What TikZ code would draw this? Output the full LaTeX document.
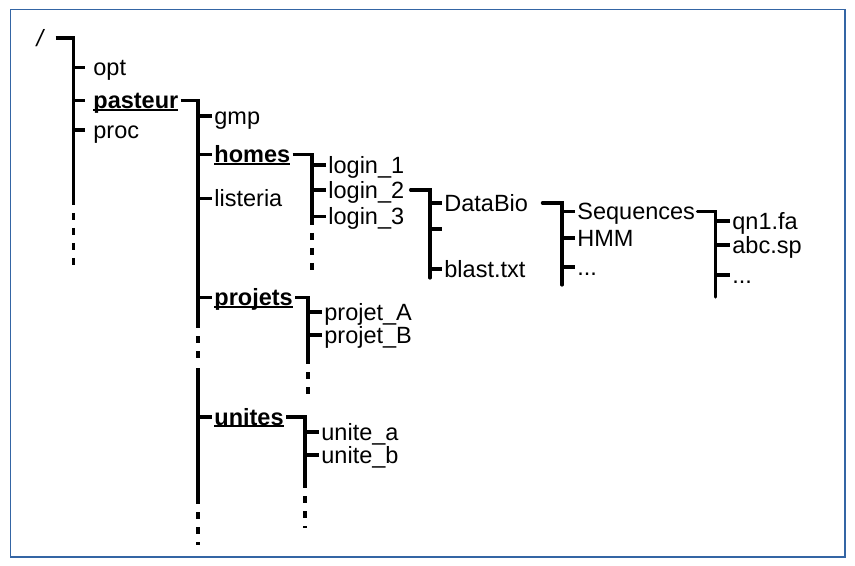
\documentclass[tikz,border=0pt]{standalone}
\usepackage{fontspec}
\setmainfont{Liberation Sans}
\usepackage{tikz}

\definecolor{cadre}{RGB}{52,101,164}
\newcommand{\taille}{\fontsize{11.75pt}{14pt}\selectfont}
\newcommand{\souligne}[1]{\setbox0\hbox{#1}\rlap{\vrule height 0pt depth 1.15pt width \wd0}\box0}

\tikzset{
  fichier/.style={anchor=west, inner sep=1pt, text height=10.6pt, text depth=2.5pt},
  dossier/.style={fichier, font=\taille\bfseries},
  barre/.style={line width=1.6pt},
  pointille/.style={barre, dash pattern=on 3.5pt off 4pt, dash phase=3.5pt},
}

\begin{document}
\begin{tikzpicture}[x=0.5pt,y=-0.5pt,font=\taille]
\useasboundingbox (0,0) rectangle (855,566);
\draw[cadre,line width=0.6pt] (10.5,9.5) rectangle (845,557);

% racine
\node[inner sep=1pt] (racine) at (40,38) {\itshape /};
\coordinate (r1) at (73.5,205); \coordinate (r2) at (73.5,265);
\node[fichier] (opt) at (91,67.7) {opt};
\node[dossier] (pasteur) at (91,100.5) {\souligne{pasteur}};
\node[fichier] (proc) at (91,130) {proc};
\draw[barre] ([xshift=5pt]racine.east) -- (racine.east -| r1) -- (r1);
\draw[pointille] (r1) -- (r2);
\foreach \n in {opt,pasteur,proc}
  \draw[barre] (\n.west -| r1) -- ([xshift=-3pt]\n.west);

% pasteur
\coordinate (p1) at (198,328); \coordinate (p2) at (198,358);
\coordinate (p3) at (198,368); \coordinate (p4) at (198,504); \coordinate (p5) at (198,545);
\node[fichier] (gmp) at (212,116) {gmp};
\node[dossier] (homes) at (212,154.5) {\souligne{homes}};
\node[fichier] (listeria) at (212,198.3) {listeria};
\node[dossier] (projets) at (212,297.5) {\souligne{projets}};
\node[dossier] (unites) at (212,417) {\souligne{unites}};
\draw[barre] (pasteur.east) -- (pasteur.east -| p1) -- (p1);
\draw[pointille] (p1) -- (p2);
\draw[barre] (p3) -- (p4);
\draw[pointille] (p4) -- (p5);
\foreach \n in {gmp,homes,listeria,projets,unites}
  \draw[barre] (\n.west -| p1) -- (\n.west);

% homes
\coordinate (h1) at (312,225); \coordinate (h2) at (312,272);
\node[fichier] (login1) at (326,165) {login\_1};
\node[fichier] (login2) at (326,190) {login\_2};
\node[fichier] (login3) at (326,216.7) {login\_3};
\draw[barre] (homes.east) -- (homes.east -| h1) -- (h1);
\draw[pointille] (h1) -- (h2);
\foreach \n in {login1,login2,login3}
  \draw[barre] (\n.west -| h1) -- (\n.west);

% login_2
\coordinate (l1) at (430,278); \coordinate (vide) at (442,229);
\node[fichier] (databio) at (442,203) {DataBio};
\node[fichier] (blast) at (442,269) {blast.txt};
\draw[barre,line cap=round] ([xshift=2pt]login2.east) -- (login2.east -| l1) -- (l1);
\foreach \n in {databio,vide,blast}
  \draw[barre] (\n -| l1) -- (\n);

% DataBio
\coordinate (d1) at (562,285);
\node[fichier] (sequences) at (575,211.7) {Sequences};
\node[fichier] (hmm) at (575,238) {HMM};
\node[fichier] (dautres) at (575,267) {...};
\draw[barre,line cap=round] ([xshift=6pt]databio.east) -- (databio.east -| d1) -- (d1);
\foreach \n in {sequences,hmm,dautres}
  \draw[barre] (\n.west -| d1) -- (\n.west);

% Sequences
\coordinate (s1) at (715.5,297);
\node[fichier] (qn) at (730,221) {qn1.fa};
\node[fichier] (abc) at (730,245) {abc.sp};
\node[fichier] (sautres) at (730,275) {...};
\draw[barre,line cap=round] (sequences.east) -- (sequences.east -| s1) -- (s1);
\foreach \n in {qn,abc,sautres}
  \draw[barre] (\n.west -| s1) -- (\n.west);

% projets
\coordinate (j1) at (308,364); \coordinate (j2) at (308,394);
\node[fichier] (projetA) at (322,312) {projet\_A};
\node[fichier] (projetB) at (322,335) {projet\_B};
\draw[barre] (projets.east) -- (projets.east -| j1) -- (j1);
\draw[pointille] (j1) -- (j2);
\foreach \n in {projetA,projetB}
  \draw[barre] (\n.west -| j1) -- (\n.west);

% unites
\coordinate (u1) at (305,488); \coordinate (u2) at (305,528);
\node[fichier] (unitea) at (319,432) {unite\_a};
\node[fichier] (uniteb) at (319,455) {unite\_b};
\draw[barre] (unites.east) -- (unites.east -| u1) -- (u1);
\draw[pointille] (u1) -- (u2);
\foreach \n in {unitea,uniteb}
  \draw[barre] (\n.west -| u1) -- (\n.west);
\end{tikzpicture}
\end{document}
